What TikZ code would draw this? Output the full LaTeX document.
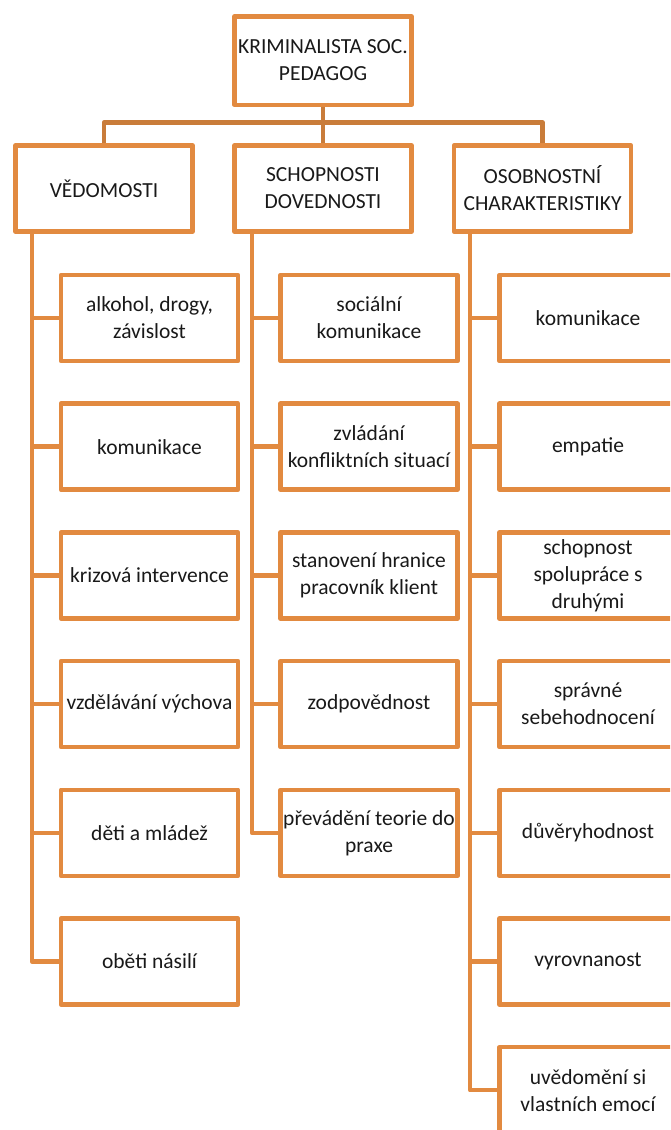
\documentclass[tikz,border=0pt]{standalone}
\usepackage{fontspec}
\setmainfont{Carlito}
\usetikzlibrary{positioning}
\definecolor{boxorange}{RGB}{226,138,64}
\definecolor{busorange}{RGB}{201,124,58}
\tikzstyle{box}=[draw=boxorange, line width=4.5pt, line join=round, text=black!90,
	minimum width=177pt, minimum height=86pt, align=center, inner sep=0,
	font=\fontsize{21.5}{27}\selectfont]
\tikzstyle{bus}=[draw=busorange, line width=4.5pt, line join=round]
\tikzstyle{link}=[draw=boxorange, line width=4.5pt, line join=round]

\begin{document}
\begin{tikzpicture}[x=1pt, y=-1pt, node distance=38.2pt]
        \useasboundingbox (0,0) rectangle (670,1130);
        \clip (0,0) rectangle (670,1130);
        % top and second level
        \node[box, minimum height=88.5pt] (top) at (323,60.5) {KRIMINALISTA SOC.\\PEDAGOG};
        \node[box] (ved) at (104,188.5) {VĚDOMOSTI};
        \node[box] (sch) at (323,188.5) {SCHOPNOSTI\\DOVEDNOSTI};
        \node[box] (osob) at (542.5,188.5) {OSOBNOSTNÍ\\CHARAKTERISTIKY};
        \coordinate (vs) at (32,0);
        \coordinate (ss) at (252,0);
        \coordinate (os) at (470,0);
        % vedomosti
        \node[box] (v1) at (149.5,318) {alkohol, drogy,\\závislost};
        \node[box, below=of v1] (v2) {komunikace};
        \node[box, below=of v2] (v3) {krizová intervence};
        \node[box, below=of v3] (v4) {vzdělávání výchova};
        \node[box, below=of v4] (v5) {děti a mládež};
        \node[box, below=of v5] (v6) {oběti násilí};
        % schopnosti
        \node[box] (s1) at (369,318) {sociální\\komunikace};
        \node[box, below=of s1] (s2) {zvládání\\konfliktních situací};
        \node[box, below=of s2] (s3) {stanovení hranice\\pracovník klient};
        \node[box, below=of s3] (s4) {zodpovědnost};
        \node[box, below=of s4] (s5) {převádění teorie do\\praxe};
        % osobnostni
        \node[box] (o1) at (588,318) {komunikace};
        \node[box, below=of o1] (o2) {empatie};
        \node[box, below=of o2] (o3) {schopnost\\spolupráce s\\druhými};
        \node[box, below=of o3] (o4) {správné\\sebehodnocení};
        \node[box, below=of o4] (o5) {důvěryhodnost};
        \node[box, below=of o5] (o6) {vyrovnanost};
        \node[box, below=of o6] (o7) {uvědomění si\\vlastních emocí};
        % connectors
        \draw[bus] (top) -- (sch);
        \draw[bus] (ved.north) -- ++(0,-20.75) -| (osob.north);
        \draw[link] (ved.south -| vs) |- (v6.west);
        \draw[link] (v1.west) -- (v1.west -| vs) (v2.west) -- (v2.west -| vs)
            (v3.west) -- (v3.west -| vs) (v4.west) -- (v4.west -| vs)
            (v5.west) -- (v5.west -| vs);
        \draw[link] (sch.south -| ss) |- (s5.west);
        \draw[link] (s1.west) -- (s1.west -| ss) (s2.west) -- (s2.west -| ss)
            (s3.west) -- (s3.west -| ss) (s4.west) -- (s4.west -| ss);
        \draw[link] (osob.south -| os) |- (o7.west);
        \draw[link] (o1.west) -- (o1.west -| os) (o2.west) -- (o2.west -| os)
            (o3.west) -- (o3.west -| os) (o4.west) -- (o4.west -| os)
            (o5.west) -- (o5.west -| os) (o6.west) -- (o6.west -| os);
\end{tikzpicture}
\end{document}
